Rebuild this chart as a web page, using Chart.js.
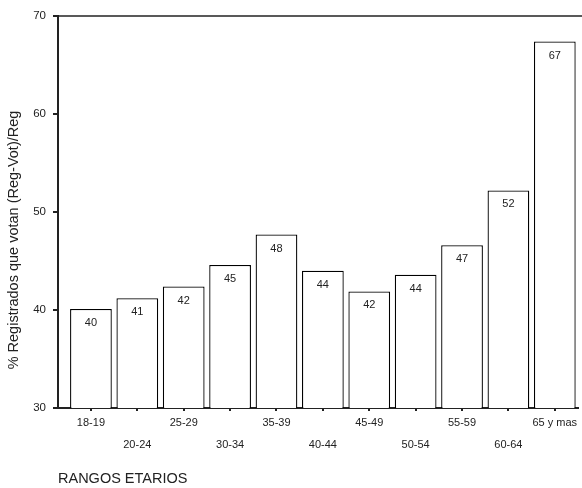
<!DOCTYPE html>
<html>
<head>
<meta charset="utf-8">
<script src="https://cdn.jsdelivr.net/npm/chart.js@4.4.1/dist/chart.umd.min.js"></script>
<style>
  html, body { margin: 0; padding: 0; background: #fff; }
</style>
</head>
<body>
<canvas id="myChart" width="582" height="488"></canvas>
<script>
// datos
const rangos = ['18-19', '20-24', '25-29', '30-34', '35-39', '40-44', '45-49', '50-54', '55-59', '60-64', '65 y mas'];
const porcentajes = [40.1, 41.2, 42.4, 44.6, 47.7, 44.0, 41.9, 43.6, 46.6, 52.2, 67.4];
const yTicks = [30, 40, 50, 60, 70];
const yTitulo = '% Registrados que votan (Reg-Vot)/Reg';
const xTitulo = 'RANGOS ETARIOS';

Chart.defaults.font.family = '"Liberation Sans", Arial, sans-serif';
Chart.defaults.color = '#222';

// numeros dentro de cada barra
const barLabels = {
  id: 'barLabels',
  afterDatasetsDraw(chart) {
    const ctx = chart.ctx;
    const meta = chart.getDatasetMeta(0);
    ctx.save();
    ctx.font = '11px "Liberation Sans", Arial, sans-serif';
    ctx.fillStyle = '#222';
    ctx.textAlign = 'center';
    ctx.textBaseline = 'middle';
    meta.data.forEach((bar, i) => {
      ctx.fillText(Math.round(porcentajes[i]), bar.x, bar.y + 14);
    });
    ctx.restore();
  }
};

// linea superior y titulo del eje y
const marco = {
  id: 'marco',
  afterDraw(chart) {
    const ctx = chart.ctx;
    const area = chart.chartArea;
    ctx.save();
    ctx.strokeStyle = '#222';
    ctx.lineWidth = 1.5;
    ctx.beginPath();
    ctx.moveTo(area.left, area.top);
    ctx.lineTo(chart.width, area.top);
    ctx.stroke();
    ctx.translate(14, chart.height / 2 - 4);
    ctx.rotate(-Math.PI / 2);
    ctx.font = '14.5px "Liberation Sans", Arial, sans-serif';
    ctx.fillStyle = '#222';
    ctx.textAlign = 'center';
    ctx.textBaseline = 'middle';
    ctx.fillText(yTitulo, 0, 0);
    ctx.restore();
  }
};

new Chart(document.getElementById('myChart'), {
  type: 'bar',
  data: {
    datasets: [{
      data: porcentajes.map((v, i) => ({ x: i, y: v })),
      backgroundColor: '#fff',
      borderColor: '#000',
      borderWidth: 1.3,
      borderSkipped: 'bottom',
      categoryPercentage: 1,
      barPercentage: 0.9
    }]
  },
  options: {
    responsive: false,
    animation: false,
    layout: { padding: { top: 16, right: 4, left: 0, bottom: 0 } },
    plugins: { legend: { display: false }, tooltip: { enabled: false } },
    scales: {
      x: {
        type: 'linear',
        offset: false,
        min: -0.71,
        max: 10.5,
        afterBuildTicks: scale => { scale.ticks = rangos.map((r, i) => ({ value: i })); },
        afterFit: scale => { scale.height = 80; },
        ticks: {
          autoSkip: false,
          maxRotation: 0,
          padding: 1,
          font: { size: 11, lineHeight: '22px' },
          callback: v => (v % 2 ? ['', rangos[v]] : rangos[v])
        },
        grid: { offset: false, drawOnChartArea: false, tickLength: 3, lineWidth: 2, color: '#222' },
        border: { width: 2, color: '#222' },
        title: { display: true, text: xTitulo, align: 'start', font: { size: 14.5 }, padding: 0 }
      },
      y: {
        min: 30,
        max: 70,
        afterBuildTicks: scale => { scale.ticks = yTicks.map(v => ({ value: v })); },
        afterFit: scale => { scale.width = 58; },
        ticks: { padding: 7, font: { size: 11.5 } },
        grid: { drawOnChartArea: false, tickLength: 5, lineWidth: 2, color: '#222' },
        border: { width: 2, color: '#222' }
      }
    }
  },
  plugins: [barLabels, marco]
});
</script>
</body>
</html>
